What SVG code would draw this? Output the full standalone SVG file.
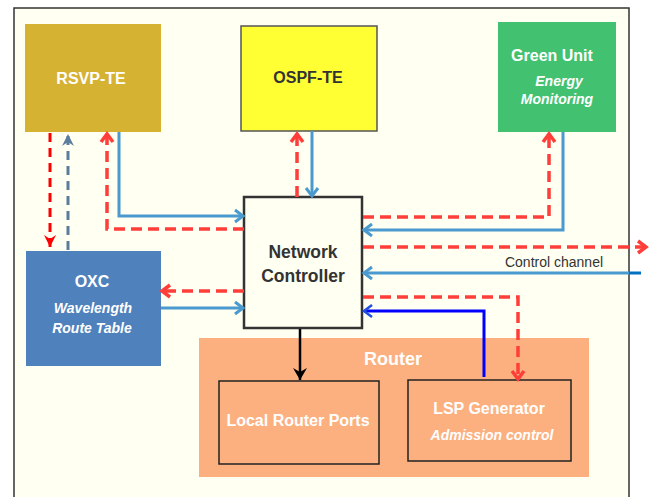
<svg xmlns="http://www.w3.org/2000/svg" width="654" height="497" viewBox="0 0 654 497">
<style>
text{font-family:"Liberation Sans",Arial,sans-serif;font-weight:bold;text-anchor:middle}
.w{fill:#fff}
.d{fill:#333}
.it{font-style:italic;font-size:14px}
.blue{fill:none;stroke:#4A9AD0;stroke-width:3}
.red{fill:none;stroke:#FF3E3A;stroke-width:3.5;stroke-dasharray:11,6}
</style>
<defs>
<marker id="cb" markerUnits="userSpaceOnUse" markerWidth="16" markerHeight="16" refX="11" refY="8" orient="auto"><path d="M3,2 L11,8 L3,14" fill="none" stroke="#4A9AD0" stroke-width="3"/></marker>
<marker id="cbb" markerUnits="userSpaceOnUse" markerWidth="16" markerHeight="16" refX="11" refY="8" orient="auto"><path d="M3,2 L11,8 L3,14" fill="none" stroke="#1F4FE0" stroke-width="2.5"/></marker>
<marker id="cr" markerUnits="userSpaceOnUse" markerWidth="16" markerHeight="16" refX="11" refY="8" orient="auto"><path d="M3,2 L11,8 L3,14" fill="none" stroke="#FF3E3A" stroke-width="3.5"/></marker>
<marker id="fr" markerUnits="userSpaceOnUse" markerWidth="16" markerHeight="16" refX="12" refY="8" orient="auto"><path d="M0,2 L12,8 L0,14 L4,8 z" fill="#FF0000"/></marker>
<marker id="fg" markerUnits="userSpaceOnUse" markerWidth="16" markerHeight="16" refX="12" refY="8" orient="auto"><path d="M0,2 L12,8 L0,14 L4,8 z" fill="#5B7C9C"/></marker>
<marker id="fk" markerUnits="userSpaceOnUse" markerWidth="16" markerHeight="16" refX="12" refY="8" orient="auto"><path d="M0,1 L12,8 L0,15 L4,8 z" fill="#000"/></marker>
</defs>
<rect x="0" y="0" width="654" height="497" fill="#fff"/>
<rect id="frame" x="14" y="8" width="615" height="500" fill="#FFFFF2" stroke="#333" stroke-width="1.5"/>

<g id="rsvp"><rect x="25" y="24" width="136" height="108" fill="#D6B233"/><text class="w" x="91" y="84" font-size="16">RSVP-TE</text></g>
<g id="ospf"><rect x="241" y="26" width="136" height="105" fill="#FFFF33" stroke="#555" stroke-width="1.5"/><text class="d" x="308" y="83" font-size="16">OSPF-TE</text></g>
<g id="green"><rect x="498" y="22" width="118" height="110" fill="#42C170"/><text class="w" x="552" y="61" font-size="16">Green Unit</text><text class="w it" x="559" y="86">Energy</text><text class="w it" x="557" y="104">Monitoring</text></g>
<g id="oxc"><rect x="26" y="251" width="135" height="115" fill="#4F81BD"/><text class="w" x="92" y="287" font-size="16">OXC</text><text class="w it" x="93" y="313">Wavelength</text><text class="w it" x="92" y="333">Route Table</text></g>
<g id="nc"><rect x="244" y="197" width="118" height="131" fill="#FFFFF2" stroke="#333" stroke-width="2.5"/><text class="d" x="303" y="258" font-size="17.5">Network</text><text class="d" x="303" y="282" font-size="17.5">Controller</text></g>
<g id="router"><rect x="199" y="338" width="390" height="139" fill="#FCB07F"/><text class="w" x="393" y="365" font-size="18">Router</text></g>
<g id="ports"><rect x="219" y="381" width="160" height="83" fill="#FCB07F" stroke="#222" stroke-width="1.5"/><text class="w" x="298" y="426" font-size="16">Local Router Ports</text></g>
<g id="lsp"><rect x="408" y="380" width="163" height="81" fill="#FCB07F" stroke="#222" stroke-width="1.5"/><text class="w" x="489" y="414" font-size="16">LSP Generator</text><text class="w it" x="492" y="440">Admission control</text></g>

<g id="connectors">
<path d="M50,133 V247" fill="none" stroke="#FF0000" stroke-width="3" stroke-dasharray="9,6" marker-end="url(#fr)"/>
<path d="M68,250 V134" fill="none" stroke="#5B7C9C" stroke-width="3" stroke-dasharray="9,6" marker-end="url(#fg)"/>
<path class="red" d="M244,229 H107 V134" marker-end="url(#cr)"/>
<path class="blue" d="M119,132 V216 H243" marker-end="url(#cb)"/>
<path class="red" d="M297,197 V134" marker-end="url(#cr)"/>
<path class="blue" d="M312,131 V196" marker-end="url(#cb)"/>
<path class="red" d="M363,217 H549 V134" marker-end="url(#cr)"/>
<path class="blue" d="M563,132 V230 H364" marker-end="url(#cb)"/>
<path class="red" d="M363,247 H646" marker-end="url(#cr)"/>
<path d="M629,273 H641" stroke="#0070C0" stroke-width="3"/>
<path class="blue" d="M629,273 H364" marker-end="url(#cb)"/>
<text x="554" y="267" font-size="14" font-weight="normal" fill="#333" style="font-weight:normal">Control channel</text>
<path class="red" d="M363,297 H518 V379" marker-end="url(#cr)"/>
<path d="M484,377 V311 H364" fill="none" stroke="#0000FF" stroke-width="3" marker-end="url(#cbb)"/>
<path class="red" d="M244,291 H162" marker-end="url(#cr)"/>
<path class="blue" d="M161,308 H243" marker-end="url(#cb)"/>
<path d="M300,329 V380" stroke="#000" stroke-width="2.5" marker-end="url(#fk)"/>
</g>
</svg>
